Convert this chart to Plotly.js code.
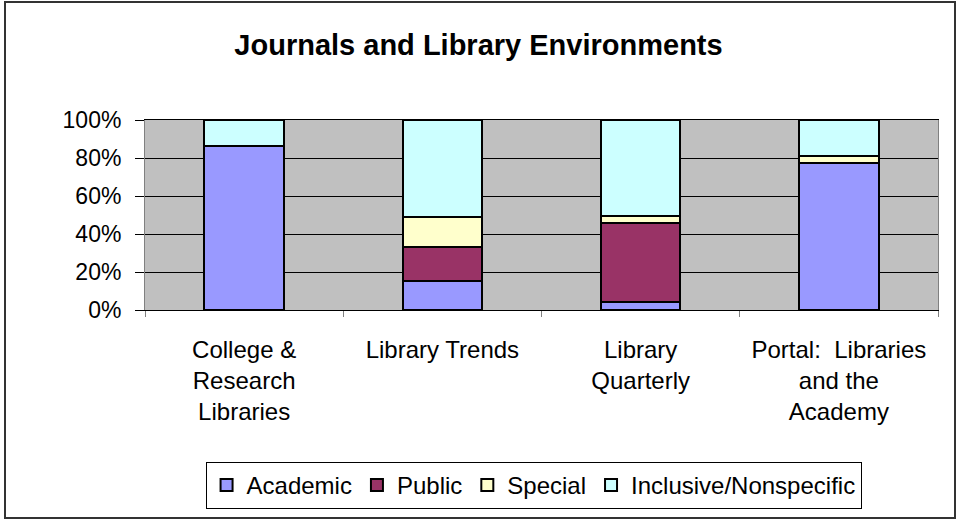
<!DOCTYPE html>
<html>
<head>
<meta charset="utf-8">
<script src="https://cdn.plot.ly/plotly-3.0.1.min.js"></script>
<style>
html,body{margin:0;padding:0;background:#fff;}
#chart{width:957px;height:519px;}
#frame{position:absolute;left:4px;top:1px;width:948px;height:514px;border:2px solid #333;pointer-events:none;}
</style>
</head>
<body>
<div id="chart"></div>
<div id="frame"></div>
<script>
const categories = ["College &<br>Research<br>Libraries", "Library Trends", "Library<br>Quarterly", "Portal:  Libraries<br>and the<br>Academy"];
const academic  = [86.5, 15.3, 4.0, 77.3];
const publicLib = [0, 18.0, 41.9, 0];
const special   = [0, 15.7, 3.8, 4.0];
const inclusive = [13.5, 51.0, 50.3, 18.7];
const seriesNames = ["Academic", "Public", "Special", "Inclusive/Nonspecific"];
const seriesColors = ["#9999FF", "#993366", "#FFFFCC", "#CCFFFF"];
const seriesData = [academic, publicLib, special, inclusive];

const traces = seriesData.map((vals, i) => ({
  type: "bar",
  name: seriesNames[i],
  x: categories,
  y: vals.map(v => v / 100),
  marker: {color: seriesColors[i], line: {color: "#000", width: 2}},
  hoverinfo: "none"
}));

const layout = {
  width: 957, height: 519,
  margin: {l: 145, r: 19, t: 120, b: 208},
  barmode: "stack",
  bargap: 0.6,
  paper_bgcolor: "#fff",
  plot_bgcolor: "#C0C0C0",
  font: {family: "Arial, Liberation Sans, sans-serif", size: 24, color: "#000"},
  title: {text: "<b>Journals and Library Environments</b>", font: {size: 29, color: "#000"}, x: 0.5, xanchor: "center", y: 0.913, yanchor: "middle"},
  showlegend: true,
  legend: {orientation: "h", x: 0.49, xanchor: "center", y: -0.79, yanchor: "top",
           bordercolor: "#000", borderwidth: 1, font: {size: 24}, traceorder: "normal",
           itemwidth: 30, tracegroupgap: 0},
  xaxis: {type: "category", showline: true, linecolor: "#000", linewidth: 1, mirror: true,
          ticks: "outside", tickson: "boundaries", ticklen: 6, tickcolor: "#808080",
          showgrid: false, tickfont: {size: 24}, ticklabelstandoff: 18, fixedrange: true},
  yaxis: {range: [0, 1], tickvals: [0, 0.2, 0.4, 0.6, 0.8, 1], ticktext: ["0%", "20%", "40%", "60%", "80%", "100%"],
          showline: true, linecolor: "#808080", linewidth: 1, mirror: true,
          ticks: "outside", ticklen: 9, tickcolor: "#000",
          showgrid: true, gridcolor: "#000", gridwidth: 1, zeroline: false, tickfont: {size: 23}, ticklabelstandoff: 9, fixedrange: true}
};

Plotly.newPlot("chart", traces, layout, {displayModeBar: false, staticPlot: true});
</script>
</body>
</html>
